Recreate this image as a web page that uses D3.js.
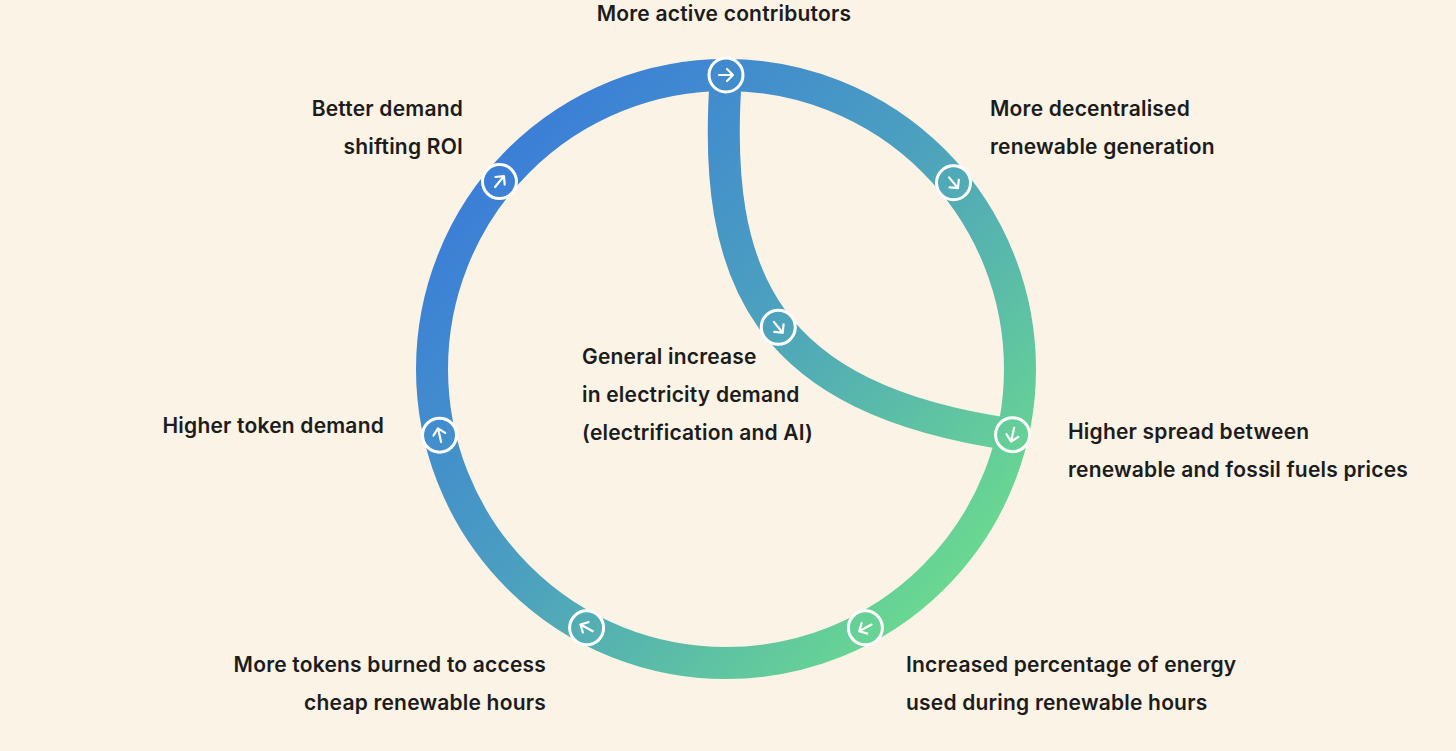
<!DOCTYPE html>
<html>
<head>
<meta charset="utf-8">
<script src="https://cdn.jsdelivr.net/npm/d3@7"></script>
<style>
  body { margin: 0; background: #faf3e6; }
  svg text { font-family: Inter, "Open Sans", sans-serif; font-weight: 600; font-size: 21px; letter-spacing: 0.2px; fill: #1c1c1c; }
</style>
</head>
<body>
<svg id="chart" width="1456" height="751"></svg>
<script>
// nodes on the ring, angle in degrees clockwise from top
const ringAngles = [0, 50.7, 102.9, 151.7, 208.3, 257, 309.6]
// node on the inner branch, fraction along the path
const innerNodeAt = [0.5]

const labels = [
  { lines: ['More active contributors'], x: 724, y: 14, anchor: 'middle' },
  { lines: ['Better demand', 'shifting ROI'], x: 463, y: 109, anchor: 'end' },
  { lines: ['More decentralised', 'renewable generation'], x: 990, y: 109, anchor: 'start' },
  { lines: ['Higher spread between', 'renewable and fossil fuels prices'], x: 1068, y: 432, anchor: 'start' },
  { lines: ['Increased percentage of energy', 'used during renewable hours'], x: 906, y: 665, anchor: 'start' },
  { lines: ['More tokens burned to access', 'cheap renewable hours'], x: 546, y: 665, anchor: 'end' },
  { lines: ['Higher token demand'], x: 384, y: 426, anchor: 'end' },
  { lines: ['General increase', 'in electricity demand', '(electrification and AI)'], x: 582, y: 357, anchor: 'start' }
]

const cx = 726, cy = 369, r = 294, band = 32, nodeR = 17, lineH = 37.6

const svg = d3.select('#chart')

const grad = svg.append('defs').append('linearGradient')
  .attr('id', 'g')
  .attr('gradientUnits', 'userSpaceOnUse')
  .attr('x1', 480).attr('y1', 150).attr('x2', 990).attr('y2', 610)
grad.selectAll('stop')
  .data([[0, '#3a7cd9'], [0.45, '#4b9fc0'], [1, '#6ee08a']])
  .enter().append('stop')
    .attr('offset', d => d[0])
    .attr('stop-color', d => d[1])

const g = svg.append('g')

// ring
g.append('circle')
  .attr('cx', cx).attr('cy', cy).attr('r', r)
  .attr('fill', 'none')
  .attr('stroke', 'url(#g)')
  .attr('stroke-width', band)

// inner branch from the top node to the "higher spread" node
const end = ringAngles[2] * Math.PI / 180
const ex = cx + r * Math.sin(end), ey = cy - r * Math.cos(end)
const branch = d3.path()
branch.moveTo(cx, cy - r)
branch.bezierCurveTo(cx - 15, cy - 90, cx + 40, cy + 30, ex, ey)
const branchPath = g.append('path')
  .attr('d', branch.toString())
  .attr('fill', 'none')
  .attr('stroke', 'url(#g)')
  .attr('stroke-width', band)

// node data: position and heading
const nodes = ringAngles.map(a => {
  const t = a * Math.PI / 180
  return { x: cx + r * Math.sin(t), y: cy - r * Math.cos(t), rot: a }
})
const pn = branchPath.node(), len = pn.getTotalLength()
innerNodeAt.forEach(f => {
  const p = pn.getPointAtLength(len * f), q = pn.getPointAtLength(len * f + 1)
  nodes.push({ x: p.x, y: p.y, rot: Math.atan2(q.y - p.y, q.x - p.x) * 180 / Math.PI })
})

const node = g.selectAll('g.node')
  .data(nodes)
  .enter().append('g')
    .attr('class', 'node')
    .attr('transform', d => `translate(${d.x},${d.y})`)

node.append('circle')
  .attr('r', nodeR)
  .attr('fill', 'url(#g)')
  .attr('stroke', '#fff')
  .attr('stroke-width', 3)
  .attr('transform', d => `translate(${-d.x},${-d.y})`)
  .attr('cx', d => d.x).attr('cy', d => d.y)

node.append('path')
  .attr('d', 'M-7,0H7M1,-6L7,0L1,6')
  .attr('fill', 'none')
  .attr('stroke', '#fff')
  .attr('stroke-width', 2.2)
  .attr('stroke-linecap', 'round')
  .attr('stroke-linejoin', 'round')
  .attr('transform', d => `rotate(${d.rot})`)

// labels
const lab = svg.selectAll('text.lab')
  .data(labels)
  .enter().append('text')
    .attr('class', 'lab')
    .attr('text-anchor', d => d.anchor)
lab.selectAll('tspan')
  .data(d => d.lines.map((l, i) => ({ l, i, d })))
  .enter().append('tspan')
    .attr('x', o => o.d.x)
    .attr('y', o => o.d.y + o.i * lineH)
    .attr('dy', '0.35em')
    .text(o => o.l)
</script>
</body>
</html>
